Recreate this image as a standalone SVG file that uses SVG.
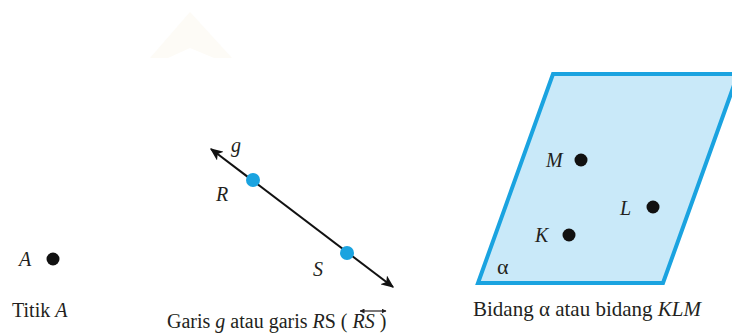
<svg xmlns="http://www.w3.org/2000/svg" width="732" height="335" viewBox="0 0 732 335">
<defs>
<style>
.t{font-family:"Liberation Serif","Times New Roman",serif;font-size:20px;fill:#231f20}
.i{font-style:italic}
.lbl{font-family:"Liberation Serif","Times New Roman",serif;font-size:20px;font-style:italic;fill:#231f20}
.dot{fill:#111}
.bdot{fill:#1aa3e0}
.ln{stroke:#111;stroke-width:2;fill:none}
</style>
<marker id="ah" viewBox="0 0 10 10" refX="9" refY="5" markerWidth="13" markerHeight="11" markerUnits="userSpaceOnUse" orient="auto-start-reverse" preserveAspectRatio="none">
<path d="M0,0 L10,5 L0,10 L2.5,5 Z" fill="#111"/>
</marker>
<marker id="ahs" viewBox="0 0 10 10" refX="9" refY="5" markerWidth="5" markerHeight="5" markerUnits="userSpaceOnUse" orient="auto-start-reverse">
<path d="M0,0 L10,5 L0,10 Z" fill="#231f20"/>
</marker>
</defs>
<rect width="732" height="335" fill="#fff"/>
<polygon points="190,12 232,58 214,58 190,48 168,58 150,58" fill="#fdfbf6"/>

<g id="point-A">
<circle class="dot" cx="53" cy="259" r="6.5"/>
<text class="lbl" x="19" y="266">A</text>
<text class="t" x="12" y="317">Titik <tspan class="i">A</tspan></text>
</g>

<g id="connectors">
<line class="ln" x1="211" y1="149" x2="393" y2="287" marker-start="url(#ah)" marker-end="url(#ah)"/>
</g>

<g id="line-g">
<text class="lbl" x="231" y="152">g</text>
</g>
<g id="point-R">
<circle class="bdot" cx="253" cy="180" r="7"/>
<text class="lbl" x="216" y="201">R</text>
</g>
<g id="point-S">
<circle class="bdot" cx="347" cy="253" r="7"/>
<text class="lbl" x="313" y="276">S</text>
</g>
<g id="caption-line">
<text class="t" x="167" y="328">Garis <tspan class="i">g</tspan> atau garis <tspan class="i">R</tspan>S ( <tspan class="i">RS</tspan> )</text>
<line x1="360" y1="311" x2="386" y2="311" stroke="#231f20" stroke-width="1.2" marker-start="url(#ahs)" marker-end="url(#ahs)"/>
</g>

<g id="plane-alpha">
<polygon points="553,74 738,74 663,283 478,283" fill="#c9e9f9" stroke="#1aa3e0" stroke-width="4" stroke-linejoin="miter"/>
<text class="t" x="497" y="274" style="font-size:22px">α</text>
</g>
<g id="point-M">
<circle class="dot" cx="581" cy="160" r="6.5"/>
<text class="lbl" x="546" y="167">M</text>
</g>
<g id="point-L">
<circle class="dot" cx="653" cy="207" r="6.5"/>
<text class="lbl" x="620" y="215">L</text>
</g>
<g id="point-K">
<circle class="dot" cx="569" cy="235" r="6.5"/>
<text class="lbl" x="535" y="242">K</text>
</g>
<g id="caption-plane">
<text class="t" x="473" y="316" style="font-size:21px">Bidang α atau bidang <tspan class="i">KLM</tspan></text>
</g>
</svg>
